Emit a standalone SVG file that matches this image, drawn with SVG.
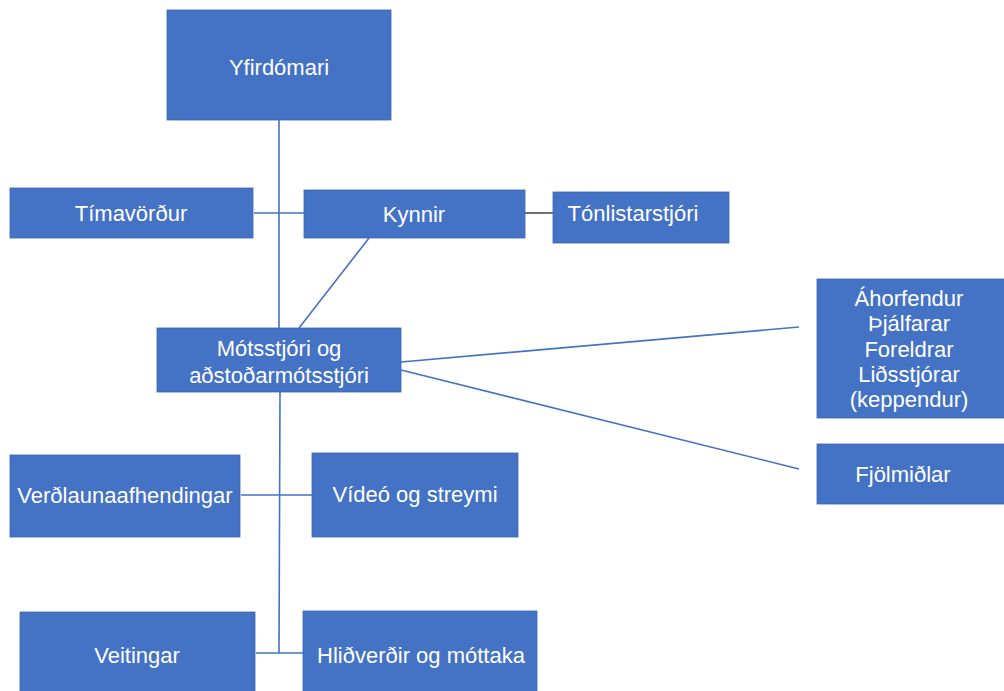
<svg xmlns="http://www.w3.org/2000/svg" width="1004" height="691" viewBox="0 0 1004 691">
<style>
.box{fill:#4472C4;stroke:#3a65b0;stroke-width:0.8}
.t{font-family:"Liberation Sans",Arial,sans-serif;font-size:22px;fill:#ffffff;text-anchor:middle}
.c{stroke:#4472C4;stroke-width:1.6;fill:none}
.k{stroke:#333333;stroke-width:1.4;fill:none}
</style>
<rect width="1004" height="691" fill="#ffffff"/>
<g id="connectors">
<line class="c" x1="279" y1="120" x2="279" y2="328"/>
<line class="c" x1="254" y1="213" x2="304" y2="213"/>
<line class="k" x1="525" y1="213" x2="553" y2="213"/>
<line class="c" x1="369" y1="238" x2="299" y2="328"/>
<line class="c" x1="280" y1="392" x2="279" y2="653"/>
<line class="c" x1="241" y1="495" x2="312" y2="495"/>
<line class="c" x1="256" y1="653" x2="303" y2="653"/>
<line class="c" x1="401" y1="362" x2="799" y2="327"/>
<line class="c" x1="401" y1="370" x2="799" y2="469"/>
</g>
<g id="yfirdomari"><rect class="box" x="167" y="10" width="224" height="110"/><text class="t" x="279" y="75">Yfirdómari</text></g>
<g id="timavordur"><rect class="box" x="10" y="188" width="243" height="50"/><text class="t" x="131" y="221">Tímavörður</text></g>
<g id="kynnir"><rect class="box" x="304" y="190" width="221" height="48"/><text class="t" x="414" y="222">Kynnir</text></g>
<g id="tonlistarstjori"><rect class="box" x="553" y="192" width="176" height="51"/><text class="t" x="633" y="221">Tónlistarstjóri</text></g>
<g id="motsstjori"><rect class="box" x="157" y="328" width="244" height="64"/><text class="t" x="279" y="356">Mótsstjóri og</text><text class="t" x="279" y="383">aðstoðarmótsstjóri</text></g>
<g id="ahorfendur"><rect class="box" x="817" y="279" width="190" height="139"/>
<text class="t" x="909" y="306">Áhorfendur</text>
<text class="t" x="909" y="331">Þjálfarar</text>
<text class="t" x="909" y="357">Foreldrar</text>
<text class="t" x="909" y="382">Liðsstjórar</text>
<text class="t" x="909" y="407">(keppendur)</text></g>
<g id="fjolmidlar"><rect class="box" x="817" y="444" width="190" height="60"/><text class="t" x="903" y="482">Fjölmiðlar</text></g>
<g id="verdlaun"><rect class="box" x="10" y="455" width="230" height="82"/><text class="t" x="125" y="503">Verðlaunaafhendingar</text></g>
<g id="video"><rect class="box" x="312" y="453" width="206" height="84"/><text class="t" x="415" y="502">Vídeó og streymi</text></g>
<g id="veitingar"><rect class="box" x="20" y="612" width="235" height="85"/><text class="t" x="137" y="663">Veitingar</text></g>
<g id="hlidverdir"><rect class="box" x="303" y="611" width="234" height="86"/><text class="t" x="421" y="663">Hliðverðir og móttaka</text></g>
</svg>
